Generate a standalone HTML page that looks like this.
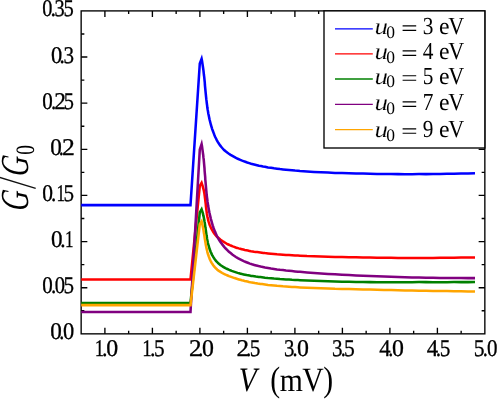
<!DOCTYPE html>
<html><head><meta charset="utf-8"><title>G/G0 vs V</title>
<style>
html,body{margin:0;padding:0;background:#fff;}
svg{display:block;will-change:transform;}
text{font-family:"Liberation Serif",serif;fill:#000;text-rendering:geometricPrecision;}
</style></head>
<body>
<svg width="498" height="401" viewBox="0 0 498 401">
<rect x="0" y="0" width="498" height="401" fill="#fff"/>
<path d="M104.90 333.85V327.65 M104.90 10.90V17.10 M128.65 333.85V330.65 M128.65 10.90V14.10 M152.40 333.85V327.65 M152.40 10.90V17.10 M176.15 333.85V330.65 M176.15 10.90V14.10 M199.90 333.85V327.65 M199.90 10.90V17.10 M223.65 333.85V330.65 M223.65 10.90V14.10 M247.40 333.85V327.65 M247.40 10.90V17.10 M271.15 333.85V330.65 M271.15 10.90V14.10 M294.90 333.85V327.65 M294.90 10.90V17.10 M318.65 333.85V330.65 M318.65 10.90V14.10 M342.40 333.85V327.65 M342.40 10.90V17.10 M366.15 333.85V330.65 M366.15 10.90V14.10 M389.90 333.85V327.65 M389.90 10.90V17.10 M413.65 333.85V330.65 M413.65 10.90V14.10 M437.40 333.85V327.65 M437.40 10.90V17.10 M461.15 333.85V330.65 M461.15 10.90V14.10 M81.15 310.78H84.35 M484.85 310.78H481.65 M81.15 287.71H87.35 M484.85 287.71H478.65 M81.15 264.65H84.35 M484.85 264.65H481.65 M81.15 241.58H87.35 M484.85 241.58H478.65 M81.15 218.51H84.35 M484.85 218.51H481.65 M81.15 195.44H87.35 M484.85 195.44H478.65 M81.15 172.38H84.35 M484.85 172.38H481.65 M81.15 149.31H87.35 M484.85 149.31H478.65 M81.15 126.24H84.35 M484.85 126.24H481.65 M81.15 103.17H87.35 M484.85 103.17H478.65 M81.15 80.10H84.35 M484.85 80.10H481.65 M81.15 57.04H87.35 M484.85 57.04H478.65 M81.15 33.97H84.35 M484.85 33.97H481.65" fill="none" stroke="#000" stroke-width="1.35"/>
<rect x="81.15" y="10.90" width="403.70" height="322.95" fill="none" stroke="#000" stroke-width="1.35"/>
<path d="M81.2 205.1 L190.5 205.1 L199.8 63.5 L201.6 58.8 L202.0 60.8 L202.3 62.8 L202.6 64.7 L202.9 66.7 L203.2 68.7 L203.5 70.8 L203.7 72.8 L203.9 74.8 L204.2 76.8 L204.4 78.9 L204.6 80.9 L204.8 82.9 L204.9 85.0 L205.1 87.0 L205.3 89.0 L205.5 91.1 L205.7 93.1 L205.9 95.2 L206.1 97.2 L206.3 99.2 L206.6 101.3 L206.8 103.3 L207.1 105.3 L207.3 107.3 L207.6 109.3 L208.0 111.4 L208.3 113.4 L208.7 115.3 L209.1 117.3 L209.5 119.3 L210.0 121.3 L210.5 123.2 L211.0 125.2 L211.6 127.1 L212.2 129.1 L212.9 131.0 L213.6 132.9 L214.3 134.8 L215.1 136.7 L216.0 138.5 L216.9 140.3 L217.9 142.1 L219.0 143.8 L220.1 145.4 L221.4 147.0 L222.7 148.5 L224.1 150.0 L225.6 151.3 L227.2 152.6 L228.9 153.8 L230.6 154.9 L232.4 155.9 L234.2 156.9 L236.0 157.9 L237.8 158.8 L239.7 159.6 L241.5 160.4 L243.4 161.1 L245.3 161.8 L247.2 162.5 L249.2 163.1 L251.1 163.7 L253.1 164.2 L255.1 164.7 L257.0 165.2 L259.0 165.7 L261.0 166.1 L263.0 166.5 L265.0 166.8 L268.0 167.4 L271.0 167.8 L274.0 168.3 L277.0 168.7 L280.0 169.1 L283.0 169.4 L286.0 169.7 L289.0 170.0 L292.0 170.3 L295.0 170.6 L298.0 170.8 L300.0 171.0 L307.0 171.5 L314.0 171.9 L321.0 172.3 L328.0 172.6 L335.0 172.9 L342.0 173.1 L349.0 173.3 L356.0 173.5 L363.0 173.6 L370.0 173.8 L377.0 173.9 L384.0 174.0 L391.0 174.1 L398.0 174.1 L405.0 174.2 L412.0 174.2 L419.0 174.1 L426.0 174.1 L433.0 174.0 L440.0 173.9 L447.0 173.8 L454.0 173.7 L461.0 173.6 L468.0 173.4 L475.0 173.2" fill="none" stroke="#0000ff" stroke-width="2.55" stroke-linejoin="miter" stroke-miterlimit="8" stroke-linecap="butt"/>
<path d="M81.2 279.5 L190.5 279.5 L199.8 185.9 L201.6 182.9 L202.1 184.4 L202.6 185.8 L203.0 187.3 L203.4 188.8 L203.8 190.3 L204.1 191.9 L204.4 193.4 L204.6 195.0 L204.8 196.5 L205.0 198.1 L205.2 199.7 L205.4 201.3 L205.6 202.9 L205.8 204.5 L205.9 206.1 L206.1 207.6 L206.3 209.2 L206.5 210.8 L206.7 212.4 L206.9 214.0 L207.2 215.5 L207.5 217.1 L207.9 218.6 L208.2 220.2 L208.6 221.7 L209.1 223.2 L209.6 224.7 L210.2 226.1 L210.8 227.6 L211.5 229.0 L212.3 230.3 L213.0 231.7 L213.9 232.9 L214.8 234.2 L215.8 235.4 L216.8 236.5 L217.9 237.6 L219.1 238.6 L220.3 239.6 L221.6 240.5 L222.9 241.4 L224.2 242.2 L225.6 243.0 L227.0 243.8 L228.4 244.5 L229.8 245.2 L231.3 245.8 L232.8 246.4 L234.2 246.9 L235.7 247.5 L237.2 247.9 L238.7 248.4 L240.2 248.8 L241.8 249.2 L243.3 249.6 L244.8 250.0 L246.3 250.3 L247.9 250.6 L249.4 250.9 L251.0 251.2 L252.5 251.4 L254.1 251.7 L255.6 251.9 L257.2 252.1 L258.8 252.3 L260.3 252.5 L261.9 252.7 L263.4 252.9 L265.0 253.1 L268.0 253.4 L271.0 253.7 L274.0 254.0 L277.0 254.3 L280.0 254.5 L283.0 254.7 L286.0 254.9 L289.0 255.1 L292.0 255.3 L295.0 255.5 L298.0 255.6 L300.0 255.7 L307.0 256.1 L314.0 256.3 L321.0 256.6 L328.0 256.8 L335.0 257.0 L342.0 257.1 L349.0 257.2 L356.0 257.3 L363.0 257.4 L370.0 257.6 L377.0 257.7 L384.0 257.7 L391.0 257.8 L398.0 257.9 L405.0 257.9 L412.0 258.0 L419.0 258.0 L426.0 257.9 L433.0 257.9 L440.0 257.8 L447.0 257.7 L454.0 257.7 L461.0 257.6 L468.0 257.5 L475.0 257.4" fill="none" stroke="#ff0000" stroke-width="2.55" stroke-linejoin="miter" stroke-miterlimit="8" stroke-linecap="butt"/>
<path d="M81.2 302.9 L190.5 302.9 L199.8 212.4 L201.6 209.4 L202.1 210.9 L202.6 212.4 L203.0 213.9 L203.3 215.4 L203.7 216.9 L204.0 218.4 L204.3 219.9 L204.5 221.4 L204.8 223.0 L205.0 224.5 L205.2 226.0 L205.4 227.6 L205.7 229.1 L205.9 230.7 L206.1 232.2 L206.3 233.7 L206.5 235.3 L206.8 236.8 L207.0 238.4 L207.3 239.9 L207.6 241.4 L207.9 243.0 L208.3 244.5 L208.7 246.0 L209.2 247.5 L209.6 249.0 L210.2 250.5 L210.7 252.0 L211.4 253.4 L212.0 254.8 L212.8 256.1 L213.5 257.4 L214.4 258.7 L215.3 259.9 L216.2 261.1 L217.2 262.2 L218.3 263.2 L219.5 264.2 L220.7 265.2 L221.9 266.0 L223.2 266.9 L224.5 267.6 L225.9 268.4 L227.3 269.0 L228.8 269.7 L230.2 270.3 L231.7 270.9 L233.1 271.4 L234.6 271.9 L236.1 272.4 L237.6 272.9 L239.1 273.3 L240.6 273.7 L242.1 274.1 L243.6 274.4 L245.1 274.7 L246.6 275.1 L248.1 275.3 L249.6 275.6 L251.2 275.9 L252.7 276.1 L254.2 276.3 L255.8 276.6 L257.3 276.8 L258.8 277.0 L260.4 277.1 L261.9 277.3 L263.5 277.5 L265.0 277.7 L268.0 278.0 L271.0 278.2 L274.0 278.5 L277.0 278.7 L280.0 279.0 L283.0 279.2 L286.0 279.4 L289.0 279.6 L292.0 279.8 L295.0 279.9 L298.0 280.1 L300.0 280.2 L307.0 280.5 L314.0 280.8 L321.0 281.1 L328.0 281.3 L335.0 281.5 L342.0 281.7 L349.0 281.8 L356.0 282.0 L363.0 282.1 L370.0 282.1 L377.0 282.2 L384.0 282.2 L391.0 282.2 L398.0 282.2 L405.0 282.2 L412.0 282.2 L419.0 282.1 L426.0 282.1 L433.0 282.2 L440.0 282.2 L447.0 282.2 L454.0 282.1 L461.0 282.1 L468.0 282.1 L475.0 282.0" fill="none" stroke="#008000" stroke-width="2.55" stroke-linejoin="miter" stroke-miterlimit="8" stroke-linecap="butt"/>
<path d="M81.2 311.9 L190.5 311.9 L199.8 149.4 L201.6 144.1 L202.0 146.3 L202.3 148.4 L202.6 150.6 L202.9 152.8 L203.2 155.0 L203.4 157.2 L203.7 159.4 L203.9 161.6 L204.1 163.9 L204.3 166.1 L204.5 168.3 L204.6 170.5 L204.8 172.8 L205.0 175.0 L205.2 177.2 L205.3 179.5 L205.5 181.7 L205.7 183.9 L205.9 186.2 L206.1 188.4 L206.3 190.6 L206.5 192.8 L206.7 195.0 L207.0 197.3 L207.3 199.5 L207.5 201.7 L207.9 203.9 L208.2 206.1 L208.6 208.2 L209.0 210.4 L209.4 212.6 L209.9 214.8 L210.4 216.9 L210.9 219.0 L211.5 221.2 L212.1 223.3 L212.7 225.4 L213.4 227.5 L214.2 229.6 L215.0 231.6 L215.9 233.7 L216.8 235.7 L217.8 237.7 L218.9 239.6 L220.1 241.5 L221.4 243.3 L222.8 245.1 L224.2 246.9 L225.7 248.5 L227.3 250.1 L228.9 251.7 L230.6 253.1 L232.3 254.5 L234.1 255.8 L235.9 257.0 L237.8 258.2 L239.7 259.2 L241.7 260.2 L243.7 261.2 L245.8 262.0 L247.8 262.8 L249.9 263.6 L252.0 264.3 L254.2 264.9 L256.3 265.5 L258.5 266.1 L260.6 266.6 L262.8 267.0 L265.0 267.5 L268.0 268.0 L271.0 268.5 L274.0 268.9 L277.0 269.4 L280.0 269.8 L283.0 270.1 L286.0 270.5 L289.0 270.8 L292.0 271.1 L295.0 271.4 L298.0 271.7 L300.0 271.8 L307.0 272.4 L314.0 272.9 L321.0 273.4 L328.0 273.9 L335.0 274.3 L342.0 274.7 L349.0 275.0 L356.0 275.4 L363.0 275.7 L370.0 276.0 L377.0 276.3 L384.0 276.5 L391.0 276.8 L398.0 277.0 L405.0 277.2 L412.0 277.4 L419.0 277.5 L426.0 277.7 L433.0 277.8 L440.0 277.9 L447.0 278.0 L454.0 278.0 L461.0 278.1 L468.0 278.1 L475.0 278.1" fill="none" stroke="#800080" stroke-width="2.55" stroke-linejoin="miter" stroke-miterlimit="8" stroke-linecap="butt"/>
<path d="M81.2 305.1 L190.5 305.1 L199.8 224.2 L201.6 221.4 L202.0 222.9 L202.3 224.3 L202.6 225.8 L202.9 227.2 L203.2 228.7 L203.5 230.1 L203.7 231.6 L203.9 233.0 L204.2 234.5 L204.4 235.9 L204.6 237.4 L204.8 238.9 L205.1 240.3 L205.3 241.8 L205.6 243.3 L205.8 244.8 L206.1 246.2 L206.4 247.7 L206.7 249.2 L207.1 250.6 L207.4 252.1 L207.8 253.5 L208.3 255.0 L208.7 256.4 L209.3 257.8 L209.8 259.2 L210.4 260.5 L211.1 261.8 L211.8 263.1 L212.6 264.3 L213.4 265.5 L214.3 266.6 L215.2 267.7 L216.3 268.7 L217.3 269.7 L218.5 270.6 L219.7 271.4 L220.9 272.2 L222.2 273.0 L223.5 273.7 L224.9 274.3 L226.2 274.9 L227.6 275.5 L229.0 276.1 L230.4 276.6 L231.8 277.1 L233.2 277.6 L234.6 278.1 L236.0 278.5 L237.5 279.0 L238.9 279.4 L240.3 279.8 L241.8 280.2 L243.2 280.5 L244.6 280.9 L246.1 281.2 L247.5 281.5 L249.0 281.9 L250.4 282.2 L251.8 282.4 L253.3 282.7 L254.8 283.0 L256.2 283.2 L257.7 283.5 L259.1 283.7 L260.6 283.9 L262.1 284.1 L263.5 284.3 L265.0 284.5 L268.0 284.9 L271.0 285.2 L274.0 285.5 L277.0 285.8 L280.0 286.0 L283.0 286.3 L286.0 286.5 L289.0 286.7 L292.0 286.9 L295.0 287.1 L298.0 287.3 L300.0 287.4 L307.0 287.7 L314.0 288.0 L321.0 288.3 L328.0 288.5 L335.0 288.8 L342.0 288.9 L349.0 289.1 L356.0 289.3 L363.0 289.4 L370.0 289.6 L377.0 289.8 L384.0 290.0 L391.0 290.1 L398.0 290.3 L405.0 290.4 L412.0 290.6 L419.0 290.7 L426.0 290.8 L433.0 290.9 L440.0 291.0 L447.0 291.1 L454.0 291.2 L461.0 291.3 L468.0 291.4 L475.0 291.5" fill="none" stroke="#ffa500" stroke-width="2.55" stroke-linejoin="miter" stroke-miterlimit="8" stroke-linecap="butt"/>
<rect x="324.00" y="10.90" width="160.85" height="137.10" fill="#fff" stroke="#000" stroke-width="1.35"/>
<path d="M335.0 28.90H372.8" stroke="#0000ff" stroke-width="1.3" fill="none"/>
<text transform="translate(374.45 33.85) scale(1.150 1)" font-size="23.5" font-style="italic" stroke="#fff" stroke-width="0.2">u</text><text transform="translate(386.30 37.55) scale(1.000 1)" font-size="17.5">0</text><path d="M402.6 25.90H416.2M402.6 30.35H416.2" stroke="#000" stroke-width="1.1" fill="none"/><text transform="translate(422.80 34.05) scale(0.870 1)" font-size="24.5">3</text><text transform="translate(439.10 33.85) scale(1.000 1)" font-size="23.7">e</text><text transform="translate(448.35 33.85) scale(0.900 1)" font-size="24.6">V</text>
<path d="M335.0 53.90H372.8" stroke="#ff0000" stroke-width="1.3" fill="none"/>
<text transform="translate(374.45 58.85) scale(1.150 1)" font-size="23.5" font-style="italic" stroke="#fff" stroke-width="0.2">u</text><text transform="translate(386.30 62.55) scale(1.000 1)" font-size="17.5">0</text><path d="M402.6 50.90H416.2M402.6 55.35H416.2" stroke="#000" stroke-width="1.1" fill="none"/><text transform="translate(422.80 59.05) scale(0.870 1)" font-size="24.5">4</text><text transform="translate(439.10 58.85) scale(1.000 1)" font-size="23.7">e</text><text transform="translate(448.35 58.85) scale(0.900 1)" font-size="24.6">V</text>
<path d="M335.0 79.00H372.8" stroke="#008000" stroke-width="1.3" fill="none"/>
<text transform="translate(374.45 83.70) scale(1.150 1)" font-size="23.5" font-style="italic" stroke="#fff" stroke-width="0.2">u</text><text transform="translate(386.30 87.40) scale(1.000 1)" font-size="17.5">0</text><path d="M402.6 75.75H416.2M402.6 80.20H416.2" stroke="#000" stroke-width="1.1" fill="none"/><text transform="translate(422.80 83.90) scale(0.870 1)" font-size="24.5">5</text><text transform="translate(439.10 83.70) scale(1.000 1)" font-size="23.7">e</text><text transform="translate(448.35 83.70) scale(0.900 1)" font-size="24.6">V</text>
<path d="M335.0 104.45H372.8" stroke="#800080" stroke-width="1.3" fill="none"/>
<text transform="translate(374.45 109.85) scale(1.150 1)" font-size="23.5" font-style="italic" stroke="#fff" stroke-width="0.2">u</text><text transform="translate(386.30 113.55) scale(1.000 1)" font-size="17.5">0</text><path d="M402.6 101.90H416.2M402.6 106.35H416.2" stroke="#000" stroke-width="1.1" fill="none"/><text transform="translate(422.80 110.05) scale(0.870 1)" font-size="24.5">7</text><text transform="translate(439.10 109.85) scale(1.000 1)" font-size="23.7">e</text><text transform="translate(448.35 109.85) scale(0.900 1)" font-size="24.6">V</text>
<path d="M335.0 129.60H372.8" stroke="#ffa500" stroke-width="1.3" fill="none"/>
<text transform="translate(374.45 136.80) scale(1.150 1)" font-size="23.5" font-style="italic" stroke="#fff" stroke-width="0.2">u</text><text transform="translate(386.30 140.50) scale(1.000 1)" font-size="17.5">0</text><path d="M402.6 128.85H416.2M402.6 133.30H416.2" stroke="#000" stroke-width="1.1" fill="none"/><text transform="translate(422.80 137.00) scale(0.870 1)" font-size="24.5">9</text><text transform="translate(439.10 136.80) scale(1.000 1)" font-size="23.7">e</text><text transform="translate(448.35 136.80) scale(0.900 1)" font-size="24.6">V</text>
<text transform="translate(50.32 339.40) scale(0.963 1)" font-size="24" stroke="#000" stroke-width="0.3">0</text><text transform="translate(59.26 339.40) scale(0.847 1)" font-size="24" stroke="#000" stroke-width="0.3">.</text><text transform="translate(63.05 339.40) scale(0.934 1)" font-size="24" stroke="#000" stroke-width="0.3">0</text>
<text transform="translate(42.20 293.26) scale(0.875 1)" font-size="24" stroke="#000" stroke-width="0.3">0</text><text transform="translate(50.90 293.26) scale(0.883 1)" font-size="24" stroke="#000" stroke-width="0.3">.</text><text transform="translate(54.72 293.26) scale(0.855 1)" font-size="24" stroke="#000" stroke-width="0.3">0</text><text transform="translate(63.38 293.26) scale(0.879 1)" font-size="24" stroke="#000" stroke-width="0.3">5</text>
<text transform="translate(51.02 247.13) scale(0.963 1)" font-size="24" stroke="#000" stroke-width="0.3">0</text><text transform="translate(60.30 247.13) scale(0.883 1)" font-size="24" stroke="#000" stroke-width="0.3">.</text><text transform="translate(65.10 247.13) scale(0.710 1)" font-size="24" stroke="#000" stroke-width="0.3">1</text>
<text transform="translate(42.18 200.99) scale(0.894 1)" font-size="24" stroke="#000" stroke-width="0.3">0</text><text transform="translate(50.90 200.99) scale(0.883 1)" font-size="24" stroke="#000" stroke-width="0.3">.</text><text transform="translate(56.40 200.99) scale(0.710 1)" font-size="24" stroke="#000" stroke-width="0.3">1</text><text transform="translate(63.38 200.99) scale(0.879 1)" font-size="24" stroke="#000" stroke-width="0.3">5</text>
<text transform="translate(50.32 154.86) scale(0.963 1)" font-size="24" stroke="#000" stroke-width="0.3">0</text><text transform="translate(58.86 154.86) scale(0.847 1)" font-size="24" stroke="#000" stroke-width="0.3">.</text><text transform="translate(61.97 154.86) scale(1.070 1)" font-size="24" stroke="#000" stroke-width="0.3">2</text>
<text transform="translate(42.20 108.72) scale(0.875 1)" font-size="24" stroke="#000" stroke-width="0.3">0</text><text transform="translate(50.90 108.72) scale(0.883 1)" font-size="24" stroke="#000" stroke-width="0.3">.</text><text transform="translate(54.17 108.72) scale(0.977 1)" font-size="24" stroke="#000" stroke-width="0.3">2</text><text transform="translate(63.72 108.72) scale(0.848 1)" font-size="24" stroke="#000" stroke-width="0.3">5</text>
<text transform="translate(51.05 62.59) scale(0.934 1)" font-size="24" stroke="#000" stroke-width="0.3">0</text><text transform="translate(59.60 62.59) scale(0.883 1)" font-size="24" stroke="#000" stroke-width="0.3">.</text><text transform="translate(63.59 62.59) scale(0.878 1)" font-size="24" stroke="#000" stroke-width="0.3">3</text>
<text transform="translate(42.23 16.45) scale(0.845 1)" font-size="24" stroke="#000" stroke-width="0.3">0</text><text transform="translate(50.45 16.45) scale(0.918 1)" font-size="24" stroke="#000" stroke-width="0.3">.</text><text transform="translate(54.52 16.45) scale(0.847 1)" font-size="24" stroke="#000" stroke-width="0.3">3</text><text transform="translate(63.41 16.45) scale(0.858 1)" font-size="24" stroke="#000" stroke-width="0.3">5</text>
<text transform="translate(94.75 356.15) scale(0.781 1)" font-size="24" stroke="#000" stroke-width="0.3">1</text><text transform="translate(102.05 356.15) scale(0.918 1)" font-size="24" stroke="#000" stroke-width="0.3">.</text><text transform="translate(106.29 356.15) scale(0.993 1)" font-size="24" stroke="#000" stroke-width="0.3">0</text>
<text transform="translate(142.32 356.15) scale(0.793 1)" font-size="24" stroke="#000" stroke-width="0.3">1</text><text transform="translate(150.05 356.15) scale(0.918 1)" font-size="24" stroke="#000" stroke-width="0.3">.</text><text transform="translate(153.96 356.15) scale(0.889 1)" font-size="24" stroke="#000" stroke-width="0.3">5</text>
<text transform="translate(188.89 356.15) scale(1.049 1)" font-size="24" stroke="#000" stroke-width="0.3">2</text><text transform="translate(198.26 356.15) scale(0.847 1)" font-size="24" stroke="#000" stroke-width="0.3">.</text><text transform="translate(202.09 356.15) scale(0.993 1)" font-size="24" stroke="#000" stroke-width="0.3">0</text>
<text transform="translate(236.49 356.15) scale(1.049 1)" font-size="24" stroke="#000" stroke-width="0.3">2</text><text transform="translate(245.90 356.15) scale(0.883 1)" font-size="24" stroke="#000" stroke-width="0.3">.</text><text transform="translate(249.76 356.15) scale(0.889 1)" font-size="24" stroke="#000" stroke-width="0.3">5</text>
<text transform="translate(283.90 356.15) scale(0.868 1)" font-size="24" stroke="#000" stroke-width="0.3">3</text><text transform="translate(292.56 356.15) scale(0.847 1)" font-size="24" stroke="#000" stroke-width="0.3">.</text><text transform="translate(296.99 356.15) scale(0.993 1)" font-size="24" stroke="#000" stroke-width="0.3">0</text>
<text transform="translate(331.99 356.15) scale(0.878 1)" font-size="24" stroke="#000" stroke-width="0.3">3</text><text transform="translate(340.76 356.15) scale(0.847 1)" font-size="24" stroke="#000" stroke-width="0.3">.</text><text transform="translate(344.05 356.15) scale(0.900 1)" font-size="24" stroke="#000" stroke-width="0.3">5</text>
<text transform="translate(379.15 356.15) scale(0.943 1)" font-size="24" stroke="#000" stroke-width="0.3">4</text><text transform="translate(388.26 356.15) scale(0.847 1)" font-size="24" stroke="#000" stroke-width="0.3">.</text><text transform="translate(392.09 356.15) scale(0.993 1)" font-size="24" stroke="#000" stroke-width="0.3">0</text>
<text transform="translate(426.64 356.15) scale(0.952 1)" font-size="24" stroke="#000" stroke-width="0.3">4</text><text transform="translate(435.70 356.15) scale(0.883 1)" font-size="24" stroke="#000" stroke-width="0.3">.</text><text transform="translate(439.76 356.15) scale(0.889 1)" font-size="24" stroke="#000" stroke-width="0.3">5</text>
<text transform="translate(473.75 356.15) scale(0.900 1)" font-size="24" stroke="#000" stroke-width="0.3">5</text><text transform="translate(482.66 356.15) scale(0.847 1)" font-size="24" stroke="#000" stroke-width="0.3">.</text><text transform="translate(486.90 356.15) scale(0.875 1)" font-size="24" stroke="#000" stroke-width="0.3">0</text>
<text transform="translate(238.67 391.40) scale(0.860 1)" font-size="34.2" font-style="italic">V</text><text transform="translate(270.30 391.40) scale(0.840 1)" font-size="35.3">(</text><text transform="translate(279.78 391.40) scale(0.900 1)" font-size="33.0">m</text><text transform="translate(302.17 391.40) scale(0.875 1)" font-size="34.0">V</text><text transform="translate(323.15 391.40) scale(0.840 1)" font-size="35.3">)</text>
<g transform="translate(27.9 210) rotate(-90)"><text transform="translate(-1.60 0.00) scale(0.700 1) skewX(-9.0)" font-size="39.7" font-style="italic">G</text><text transform="translate(32.90 0.00) scale(0.700 1) skewX(-9.0)" font-size="39.7" font-style="italic">G</text><text transform="translate(55.26 5.76) scale(0.730 1)" font-size="26.5">0</text></g>
<path d="M35.7 188.45L-2 176.9" stroke="#111" stroke-width="1.4" fill="none"/>
</svg>
</body></html>
